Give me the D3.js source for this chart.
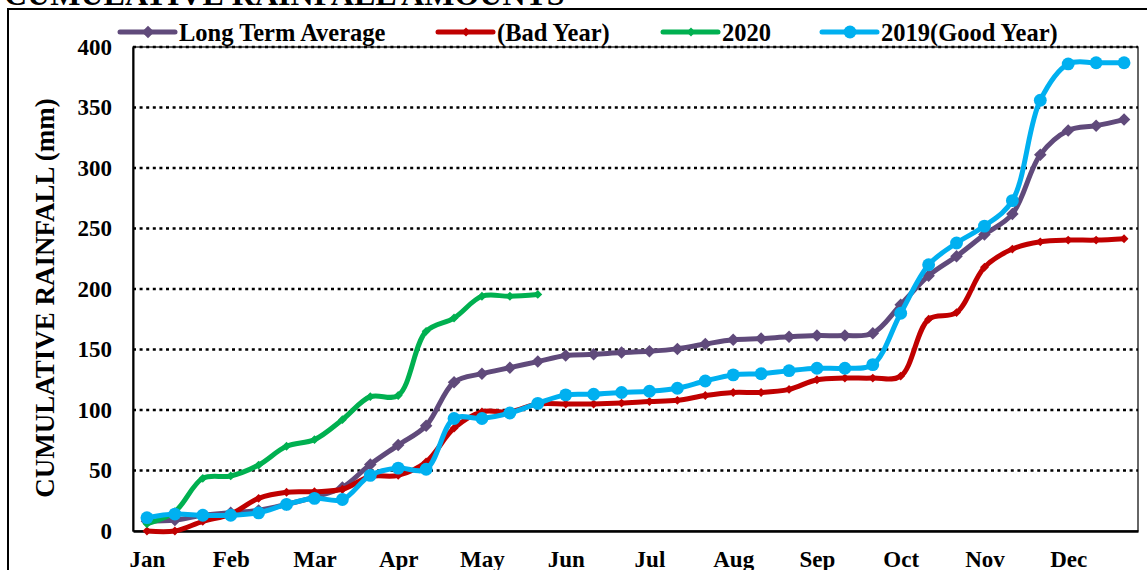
<!DOCTYPE html>
<html>
<head>
<meta charset="utf-8">
<script src="https://cdn.jsdelivr.net/npm/d3@7/dist/d3.min.js"></script>
<style>
  body { margin: 0; background: #fff; }
  svg { display: block; }
  text { font-family: "Liberation Serif", "Times New Roman", serif; font-weight: bold; }
</style>
</head>
<body>
<script>
// months, 3 dekads each
var months = ["Jan", "Feb", "Mar", "Apr", "May", "Jun", "Jul", "Aug", "Sep", "Oct", "Nov", "Dec"];
var dekads = [];
months.forEach(function(m){ dekads.push(m + "-1", m + "-2", m + "-3"); });

var longTermAvg = [8, 9, 13, 15, 17, 22, 28, 36, 55, 71, 87, 123, 130, 135, 140, 145, 146, 147.5,
                   148.5, 150.5, 154.5, 158, 159, 160.5, 161.5, 161.5, 163.5, 187, 211, 227, 245, 262,
                   311, 331, 335, 340];
var badYear = [0, 0, 8, 14, 27, 32, 32.5, 34.5, 45, 46, 57, 85, 98.5, 98.5, 105, 105, 105, 105.7,
               107, 108, 112, 114.5, 114.5, 117, 125, 126.4, 126.4, 128, 175, 180.5, 218, 233,
               239, 240.4, 240.4, 241.5];
var year2020 = [6, 16, 43.5, 45.5, 54.5, 70, 75.5, 92, 111, 112, 165, 176, 194, 194, 195.5];
var goodYear = [11, 14, 13, 13, 15, 22, 27, 26, 46, 52, 51, 93, 93, 97.5, 105.5, 112.5, 113, 114.5,
                115.5, 118, 124, 129, 130, 132.5, 134.5, 134.5, 137.5, 180, 220, 238, 252, 273,
                356, 386, 387, 387];
var yTicks = [0, 50, 100, 150, 200, 250, 300, 350, 400];

var series = [
  {name: "Long Term Average", values: longTermAvg, color: "#604A7B", symbol: d3.symbolDiamond2, size: 100},
  {name: "(Bad Year)", values: badYear, color: "#C00000", symbol: d3.symbolDiamond2, size: 50},
  {name: "2020", values: year2020, color: "#00B050", symbol: d3.symbolDiamond2, size: 50},
  {name: "2019(Good Year)", values: goodYear, color: "#00B0F0", symbol: d3.symbolCircle, size: 130}
];

var W = 1147, H = 570;
var plotLeft = 133, plotRight = 1138, plotTop = 47, plotBottom = 531;

var svg = d3.select("body").append("svg").attr("width", W).attr("height", H);

// chart border (runs off the picture)
svg.append("rect").attr("x", 8).attr("y", 9).attr("width", 1300).attr("height", 700)
  .attr("fill", "none").attr("stroke", "#000").attr("stroke-width", 2);

// title, mostly cut off
svg.append("text").attr("x", 4).attr("y", 5).attr("font-size", 32).text("CUMULATIVE RAINFALL AMOUNTS");

var x = d3.scalePoint().domain(dekads).range([plotLeft, plotRight]).padding(0.5);
var y = d3.scaleLinear().domain([0, 400]).range([plotBottom, plotTop]);

// plot area frame
svg.append("rect").attr("x", plotLeft).attr("y", plotTop)
  .attr("width", plotRight - plotLeft).attr("height", plotBottom - plotTop)
  .attr("fill", "none").attr("stroke", "#000").attr("stroke-width", 1.2);

// gridlines
svg.append("g").selectAll("line").data(yTicks.filter(function(d){ return d > 0; })).enter().append("line")
  .attr("x1", plotLeft).attr("x2", plotRight)
  .attr("y1", function(d){ return y(d); }).attr("y2", function(d){ return y(d); })
  .attr("stroke", "#000").attr("stroke-width", 2.5).attr("stroke-dasharray", "3,3.6");

// y axis
var yAxis = svg.append("g").attr("transform", "translate(" + plotLeft + ",0)")
  .call(d3.axisLeft(y).tickValues(yTicks).tickSize(0).tickPadding(21));
yAxis.select(".domain").attr("stroke-width", 2);
yAxis.selectAll("text").attr("font-size", 23).attr("font-family", "Liberation Serif").attr("font-weight", "bold")
  .attr("fill", "#000");

// x axis
var xAxis = svg.append("g").attr("transform", "translate(0," + plotBottom + ")")
  .call(d3.axisBottom(x).tickValues(dekads.filter(function(d, i){ return i % 3 === 0; }))
    .tickFormat(function(d){ return d.split("-")[0]; }).tickSize(0).tickPadding(20));
xAxis.select(".domain").attr("stroke-width", 2.5);
xAxis.selectAll("text").attr("font-size", 23).attr("font-family", "Liberation Serif").attr("font-weight", "bold")
  .attr("fill", "#000");

// y axis title
svg.append("text").attr("transform", "translate(54,298) rotate(-90)").attr("text-anchor", "middle")
  .attr("font-size", 27).text("CUMULATIVE RAINFALL  (mm)");

// lines + markers
var line = d3.line().x(function(d, i){ return x(dekads[i]); }).y(function(d){ return y(d); })
  .curve(d3.curveCatmullRom.alpha(0.5));

series.forEach(function(s){
  var g = svg.append("g");
  g.append("path").datum(s.values).attr("d", line)
    .attr("fill", "none").attr("stroke", s.color).attr("stroke-width", 5).attr("stroke-linejoin", "round");
  g.selectAll("path.m").data(s.values).enter().append("path").attr("class", "m")
    .attr("d", d3.symbol().type(s.symbol).size(s.size))
    .attr("transform", function(d, i){ return "translate(" + x(dekads[i]) + "," + y(d) + ")"; })
    .attr("fill", s.color);
});

// legend
var legendX = [120, 438, 663, 822];
var legend = svg.append("g").selectAll("g").data(series).enter().append("g")
  .attr("transform", function(d, i){ return "translate(" + legendX[i] + ",32)"; });
legend.append("line").attr("x1", 0).attr("x2", 55).attr("y1", 0).attr("y2", 0)
  .attr("stroke", function(d){ return d.color; }).attr("stroke-width", 5).attr("stroke-linecap", "round");
legend.append("path").attr("transform", "translate(28,0)")
  .attr("d", function(d){ return d3.symbol().type(d.symbol).size(d.size)(); })
  .attr("fill", function(d){ return d.color; });
legend.append("text").attr("x", 59).attr("y", 8.5).attr("font-size", 24.5).text(function(d){ return d.name; });
</script>
</body>
</html>
